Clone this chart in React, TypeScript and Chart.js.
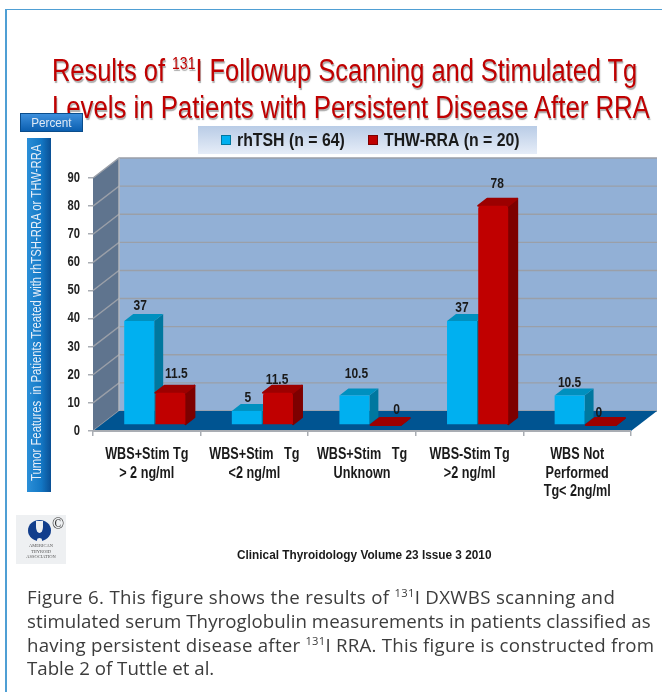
import React, { useEffect, useRef } from "react";
import { Chart, registerables } from "chart.js";

Chart.register(...registerables);

const categories = [
  ["WBS+Stim Tg", "> 2 ng/ml"],
  ["WBS+Stim   Tg", "<2 ng/ml"],
  ["WBS+Stim   Tg", "Unknown"],
  ["WBS-Stim Tg", ">2 ng/ml"],
  ["WBS Not", "Performed", "Tg< 2ng/ml"],
];
const rhTSH = [37, 5, 10.5, 37, 10.5];
const thwRRA = [11.5, 11.5, 0, 78, 0];
const seriesNames = ["rhTSH (n = 64)", "THW-RRA (n = 20)"];
const yMax = 90;
const yStep = 10;

const SANS = '"Liberation Sans", Arial, sans-serif';
const WALL = { dx: 26, dy: 20 };
const BAR = { dx: 9, dy: 7, shiftX: 8, shiftY: 6 };
const palette = [
  { front: "#00b0f0", side: "#00779f", top: "#0090bf" },
  { front: "#c00000", side: "#7d0000", top: "#9c0000" },
];
// label nudges, style only: [dx, dy] per dataset and category
const labelNudge = [
  [[1, -7], [1, -5], [2, -14], [0, -5], [0, -5]],
  [[6, -11], [-1, -5], [11, -7], [4, -14], [-2, -4]],
];

function squeezed(ctx: any, text: string, x: number, y: number, sx: number) {
  ctx.save();
  ctx.translate(x, y);
  ctx.scale(sx, 1);
  ctx.fillText(text, 0, 0);
  ctx.restore();
}

function drawFaces(chart: any, index: number) {
  const { ctx } = chart;
  const c = palette[index];
  const rounded = index === 1;
  ctx.lineJoin = "round";
  ctx.lineWidth = 2;
  chart.getDatasetMeta(index).data.forEach((b: any) => {
    const l = b.x - b.width / 2;
    const r = b.x + b.width / 2;
    ctx.fillStyle = c.side;
    ctx.strokeStyle = c.side;
    ctx.beginPath();
    ctx.moveTo(r, b.y);
    ctx.lineTo(r + BAR.dx, b.y - BAR.dy);
    ctx.lineTo(r + BAR.dx, b.base - BAR.dy);
    ctx.lineTo(r, b.base);
    ctx.closePath();
    ctx.fill();
    if (rounded) ctx.stroke();
    ctx.fillStyle = c.top;
    ctx.strokeStyle = c.top;
    ctx.beginPath();
    ctx.moveTo(l, b.y);
    ctx.lineTo(l + BAR.dx, b.y - BAR.dy);
    ctx.lineTo(r + BAR.dx, b.y - BAR.dy);
    ctx.lineTo(r, b.y);
    ctx.closePath();
    ctx.fill();
    if (rounded) ctx.stroke();
  });
}

const scene3d = {
  id: "scene3d",
  beforeDatasetsDraw(chart: any) {
    const { ctx, chartArea: a, scales } = chart;
    const y = scales.y;
    const poly = (pts: number[][], fill: string) => {
      ctx.beginPath();
      pts.forEach((p, i) => (i ? ctx.lineTo(p[0], p[1]) : ctx.moveTo(p[0], p[1])));
      ctx.closePath();
      ctx.fillStyle = fill;
      ctx.fill();
    };
    const zero = y.getPixelForValue(0);
    const top = y.getPixelForValue(yMax);
    ctx.save();
    poly([[a.left + WALL.dx, top - WALL.dy], [a.right + WALL.dx, top - WALL.dy], [a.right + WALL.dx, zero - WALL.dy], [a.left + WALL.dx, zero - WALL.dy]], "#92b0d6");
    poly([[a.left, top], [a.left + WALL.dx, top - WALL.dy], [a.left + WALL.dx, zero - WALL.dy], [a.left, zero]], "#5f748e");
    y.ticks.forEach((t: any) => {
      const py = y.getPixelForValue(t.value);
      ctx.strokeStyle = "#9a9fa8";
      ctx.lineWidth = 1.4;
      ctx.beginPath();
      ctx.moveTo(a.left, py);
      ctx.lineTo(a.left + WALL.dx, py - WALL.dy);
      ctx.lineTo(a.right + WALL.dx, py - WALL.dy);
      ctx.stroke();
    });
    ctx.strokeStyle = "#b5b8bd";
    ctx.beginPath();
    ctx.moveTo(a.left + WALL.dx, top - WALL.dy);
    ctx.lineTo(a.left + WALL.dx, zero - WALL.dy);
    ctx.stroke();
    poly([[a.left, zero], [a.left + WALL.dx, zero - WALL.dy], [a.right + WALL.dx, zero - WALL.dy], [a.right, zero]], "#005491");
    ctx.strokeStyle = "#a9adb3";
    ctx.lineWidth = 2;
    ctx.beginPath();
    ctx.moveTo(a.left, zero);
    ctx.lineTo(a.right, zero);
    ctx.stroke();
    ctx.restore();
  },
  // Chart.js paints datasets last to first; the red series has to land on top of
  // the blue bar's side face, so it is skipped here and painted after the blue one.
  beforeDatasetDraw(chart: any, args: any) {
    if (args.index === 1) return false;
    const { ctx } = chart;
    ctx.save();
    ctx.translate(BAR.shiftX, -BAR.shiftY);
    drawFaces(chart, args.index);
  },
  afterDatasetDraw(chart: any) {
    const { ctx } = chart;
    drawFaces(chart, 1);
    chart.getDatasetMeta(1).controller.draw();
    ctx.restore();
  },
  afterDatasetsDraw(chart: any) {
    const { ctx, scales, chartArea: a } = chart;
    ctx.save();
    ctx.textBaseline = "middle";
    ctx.textAlign = "right";
    ctx.font = `bold 14px ${SANS}`;
    ctx.fillStyle = "#222";
    scales.y.ticks.forEach((t: any) => {
      squeezed(ctx, String(t.label), a.left - 13, scales.y.getPixelForValue(t.value), 0.8);
    });
    ctx.textAlign = "center";
    ctx.font = `bold 16px ${SANS}`;
    ctx.fillStyle = "#1a1a1a";
    scales.x.ticks.forEach((t: any, i: number) => {
      const lines: string[] = Array.isArray(t.label) ? t.label : [t.label];
      lines.forEach((ln, k) => {
        squeezed(ctx, ln, scales.x.getPixelForTick(i), a.bottom + 24 + k * 18.4, 0.79);
      });
    });
    ctx.font = `bold 15px ${SANS}`;
    chart.data.datasets.forEach((ds: any, i: number) => {
      chart.getDatasetMeta(i).data.forEach((b: any, j: number) => {
        const [nx, ny] = labelNudge[i][j];
        squeezed(ctx, String(ds.data[j]), b.x + BAR.shiftX + nx, b.y - BAR.shiftY - 8 + ny, 0.8);
      });
    });
    const lx = 198, ly = 126, lw = 339, lh = 28;
    const g = ctx.createLinearGradient(0, ly, 0, ly + lh);
    g.addColorStop(0, "#b9cce6");
    g.addColorStop(1, "#e6edf8");
    ctx.fillStyle = g;
    ctx.fillRect(lx, ly, lw, lh);
    ctx.font = `bold 18px ${SANS}`;
    ctx.textAlign = "left";
    const xs = [221, 368];
    chart.data.datasets.forEach((ds: any, i: number) => {
      ctx.fillStyle = palette[i].front;
      ctx.fillRect(xs[i], ly + 9, 10, 10);
      ctx.strokeStyle = palette[i].side;
      ctx.lineWidth = 1;
      ctx.strokeRect(xs[i] + 0.5, ly + 9.5, 9, 9);
      ctx.fillStyle = "#1a1a1a";
      squeezed(ctx, ds.label, xs[i] + 16, ly + 15, 0.88);
    });
    ctx.restore();
  },
};

const abs = (o: React.CSSProperties): React.CSSProperties => ({ position: "absolute", whiteSpace: "nowrap", ...o });
const titleStyle: React.CSSProperties = {
  left: 52,
  fontFamily: SANS,
  fontSize: 31,
  color: "#c00000",
  lineHeight: "36px",
  textShadow: "1px 1.5px 1px rgba(90,90,90,.5)",
  transformOrigin: "0 0",
};
const captionStyle: React.CSSProperties = {
  left: 27,
  fontFamily: '"Open Sans", sans-serif',
  fontSize: 18.7,
  color: "#3c3c3c",
  lineHeight: "24px",
};
const titleSup: React.CSSProperties = { fontSize: "0.55em", position: "relative", top: "-0.7em" };
const sup: React.CSSProperties = { fontSize: "0.6em", position: "relative", top: "-0.6em" };

export default function App() {
  const ref = useRef<HTMLCanvasElement>(null);
  useEffect(() => {
    document.body.style.margin = "0";
    document.body.style.background = "#fff";
    const chart = new Chart(ref.current!, {
      type: "bar",
      data: {
        labels: categories,
        datasets: [
          { label: seriesNames[0], data: rhTSH, backgroundColor: palette[0].front, borderWidth: 0, barPercentage: 0.96, categoryPercentage: 0.58 },
          { label: seriesNames[1], data: thwRRA, backgroundColor: palette[1].front, borderWidth: 0, barPercentage: 0.96, categoryPercentage: 0.58, borderRadius: 3 },
        ],
      },
      options: {
        animation: false,
        responsive: false,
        layout: { padding: { top: 178, right: 31, bottom: 0, left: 0 } },
        plugins: { legend: { display: false }, tooltip: { enabled: false }, title: { display: false } },
        scales: {
          x: {
            afterFit: (s: any) => { s.height = 261; },
            grid: { display: true, drawOnChartArea: false, offset: true, color: "#a9adb3", tickLength: 5, lineWidth: 1.5 },
            border: { display: false },
            ticks: { display: false, autoSkip: false },
          },
          y: {
            min: 0,
            max: yMax,
            afterFit: (s: any) => { s.width = 93; },
            grid: { display: true, drawOnChartArea: false, color: "#a9adb3", tickLength: 5, lineWidth: 1.5 },
            border: { display: false },
            ticks: { display: false, stepSize: yStep },
          },
        },
      },
      plugins: [scene3d],
    } as any);
    return () => chart.destroy();
  }, []);

  return (
    <div style={{ position: "relative", width: 662, height: 692, overflow: "hidden", background: "#fff" }}>
      <canvas ref={ref} width={662} height={692} style={{ position: "absolute", left: 0, top: 0, display: "block" }} />
      <div style={{ position: "absolute", left: 5, top: 9, width: 660, height: 690, borderLeft: "2px solid #4f9fd4", borderTop: "1.5px solid #4f9fd4" }} />
      <div style={abs({ ...titleStyle, top: 53, transform: "scaleX(0.82)" })}>
        Results of <span style={titleSup}>131</span>I Followup Scanning and Stimulated Tg
      </div>
      <div style={abs({ ...titleStyle, top: 90, transform: "scaleX(0.83)" })}>Levels in Patients with Persistent Disease After RRA</div>
      <div style={abs({ left: 20, top: 113, width: 63, height: 19, background: "linear-gradient(#3d8fdc,#0b5fb0)", border: "1px solid #0a4d8c", boxSizing: "border-box", color: "#dfe9f5", fontFamily: SANS, fontSize: 13, lineHeight: "17px", textAlign: "center" })}>
        <span style={{ display: "inline-block", transform: "scaleX(0.9)" }}>Percent</span>
      </div>
      <div style={{ position: "absolute", left: 27, top: 138, width: 24, height: 354, background: "linear-gradient(90deg,#2b8fd8,#1377c4 60%,#0a4f94)" }} />
      <div style={abs({ left: 27, top: 481, transformOrigin: "0 0", transform: "rotate(-90deg) scaleX(0.755)", color: "#e6eef8", fontFamily: SANS, fontSize: 15, lineHeight: "18px", whiteSpace: "pre" })}>
        Tumor Features  in Patients Treated with rhTSH-RRA or THW-RRA
      </div>
      <div style={{ position: "absolute", left: 16, top: 515, width: 50, height: 49, background: "#eef0f2" }}>
        <div style={{ position: "absolute", left: 12, top: 5, width: 23, height: 21, borderRadius: "50%", background: "#123e8c" }} />
        <div style={{ position: "absolute", left: 20, top: 6, width: 7, height: 12, borderRadius: "0 0 50% 50%", background: "#eef0f2" }} />
        <div style={{ position: "absolute", left: 21, top: 23, width: 5, height: 3, borderRadius: "50% 50% 0 0", background: "#eef0f2" }} />
        <div style={abs({ left: 36, top: 0, fontFamily: '"Liberation Serif", serif', fontSize: 16, color: "#333" })}>©</div>
        <div style={{ position: "absolute", left: 0, width: 50, top: 28, fontFamily: '"Liberation Serif", serif', fontSize: 4.5, lineHeight: "5.5px", textAlign: "center", color: "#555" }}>
          AMERICAN<br />THYROID<br />ASSOCIATION
        </div>
      </div>
      <div style={abs({ left: 237, top: 547, fontFamily: SANS, fontWeight: "bold", fontSize: 13.5, color: "#1a1a1a", transformOrigin: "0 0", transform: "scaleX(0.875)" })}>
        Clinical Thyroidology Volume 23 Issue 3 2010
      </div>
      <div style={abs({ ...captionStyle, top: 585, letterSpacing: 0.3 })}>
        Figure 6. This figure shows the results of <span style={sup}>131</span>I DXWBS scanning and
      </div>
      <div style={abs({ ...captionStyle, top: 609, letterSpacing: 0.06 })}>stimulated serum Thyroglobulin measurements in patients classified as</div>
      <div style={abs({ ...captionStyle, top: 633, letterSpacing: 0.23 })}>
        having persistent disease after <span style={sup}>131</span>I RRA. This figure is constructed from
      </div>
      <div style={abs({ ...captionStyle, top: 656 })}>Table 2 of Tuttle et al.</div>
    </div>
  );
}
